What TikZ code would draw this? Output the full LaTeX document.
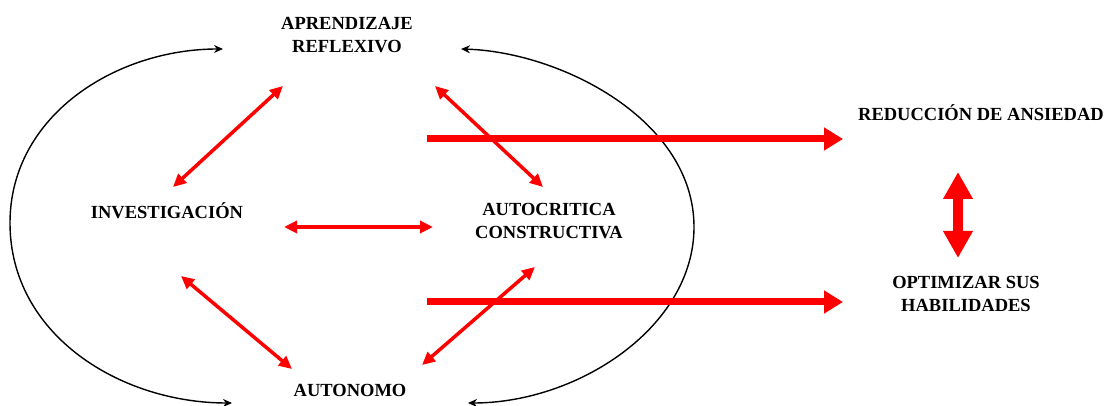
\documentclass[tikz,border=0pt]{standalone}
\usepackage{fontspec}
\setmainfont{Liberation Serif}
\usetikzlibrary{arrows.meta}
\tikzset{%
  concept/.style   = {align=center, inner sep=0pt,%
                      font=\bfseries\fontsize{18.5}{22.5}\selectfont},%
  link/.style      = {draw=red, line width=3.5pt,%
                      {Triangle[length=13pt,width=12pt]}-{Triangle[length=13pt,width=12pt]}},%
  cycleline/.style = {draw=black, line width=1.4pt,%
                      {Stealth[length=9pt,width=8pt]}-{Stealth[length=9pt,width=8pt]}},%
  effect/.style    = {draw=red, line width=7pt, -{Triangle[length=19pt,width=22pt]}},%
  mutual/.style    = {draw=red, line width=10pt,%
                      {Triangle[length=27pt,width=28pt]}-{Triangle[length=27pt,width=28pt]}}%
}
\begin{document}
\begin{tikzpicture}[x=1pt,y=1pt]
  \useasboundingbox (0,0) rectangle (1108,406);
  \node[concept] (apr)   at (347,371) {APRENDIZAJE\\REFLEXIVO};
  \node[concept] (inv)   at (167,195) {INVESTIGACIÓN};
  \node[concept] (aut)   at (549,185) {AUTOCRITICA\\CONSTRUCTIVA};
  \node[concept] (auton) at (350,16)  {AUTONOMO};
  \node[concept] (red)   at (981,293) {REDUCCIÓN DE ANSIEDAD};
  \node[concept] (opt)   at (966,112) {OPTIMIZAR SUS\\HABILIDADES};

  \draw[cycleline] ([shift={(-124,-14)}]apr.center) to[out=180,in=90] (10,183)
                   to[out=-90,in=180] ([shift={(-118,-13)}]auton.center);
  \draw[cycleline] ([shift={(114,-14)}]apr.center) .. controls +(100,-3) and +(0,107) .. (694,179)
                   .. controls +(0,-100) and +(110,0) .. ([shift={(118,-13)}]auton.center);

  \draw[link] ([shift={(6,24)}]inv.center) -- ([shift={(-64,-51)}]apr.center);
  \draw[link] ([shift={(88,-51)}]apr.center) -- ([shift={(-6,34)}]aut.center);
  \draw[link] ([shift={(117,-16)}]inv.center) -- ([shift={(-116,-6)}]aut.center);
  \draw[link] ([shift={(14,-65)}]inv.center) -- ([shift={(-58,21)}]auton.center);
  \draw[link] ([shift={(-14,-46)}]aut.center) -- ([shift={(72,25)}]auton.center);

  \coordinate (s1) at (427,267);
  \coordinate (s2) at (427,104);
  \draw[effect] (s1) -- ([shift={(-138,-26)}]red.center);
  \draw[effect] (s2) -- ([shift={(-123,-8)}]opt.center);
  \draw[mutual] ([shift={(-23,-59)}]red.center) -- ([shift={(-8,36)}]opt.center);
\end{tikzpicture}
\end{document}
